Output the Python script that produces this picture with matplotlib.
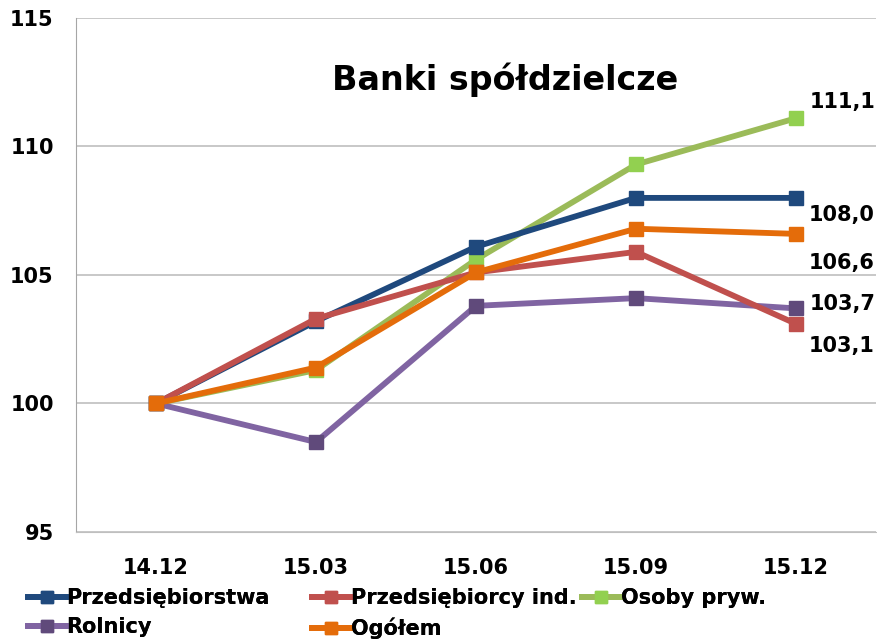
import numpy as np
import matplotlib.pyplot as plt

categories = ["14.12", "15.03", "15.06", "15.09", "15.12"]

przedsiebiorstwa = [100.0, 103.2, 106.1, 108.0, 108.0]
przedsiebiorcy_ind = [100.0, 103.3, 105.1, 105.9, 103.1]
osoby_pryw = [100.0, 101.3, 105.6, 109.3, 111.1]
rolnicy = [100.0, 98.5, 103.8, 104.1, 103.7]
ogolem = [100.0, 101.4, 105.1, 106.8, 106.6]

end_labels = ["111,1", "108,0", "106,6", "103,7", "103,1"]

plt.rcParams["font.family"] = ["DejaVu Sans"]
plt.rcParams["font.weight"] = "bold"

fig = plt.figure(figsize=(8.77, 6.41), dpi=100)
ax = fig.add_axes([76 / 877, 109 / 641, 800 / 877, 514 / 641])

x = np.arange(len(categories))

series = [
    ("Przedsiębiorstwa", przedsiebiorstwa, "#1F497D", "#1F497D", 3),
    ("Przedsiębiorcy ind.", przedsiebiorcy_ind, "#C0504D", "#C0504D", 4),
    ("Osoby pryw.", osoby_pryw, "#9BBB59", "#92D050", 2),
    ("Rolnicy", rolnicy, "#8064A2", "#604A7B", 3),
    ("Ogółem", ogolem, "#E46C0A", "#E46C0A", 5),
]
handles = {}
for name, vals, lc, mc, zo in series:
    h, = ax.plot(x, vals, color=lc, lw=4.2, marker="s", ms=10.5, mfc=mc, mec=mc,
                 label=name, zorder=zo)
    handles[name] = h

# value labels at the last point
last = len(categories) - 1
offsets = [(osoby_pryw, (10, 12)), (przedsiebiorstwa, (9, -12)),
           (ogolem, (9, -21)), (rolnicy, (10, 3)), (przedsiebiorcy_ind, (9, -16))]
for lab, (vals, off) in zip(end_labels, offsets):
    ax.annotate(lab, (x[last], vals[last]), xytext=off, textcoords="offset points",
                ha="left", va="center", fontsize=15, fontweight="bold")

ax.set_xlim(-0.5, len(categories) - 0.5)
ax.set_ylim(95, 115)
ax.set_yticks([95, 100, 105, 110, 115])
ax.set_xticks(x)
ax.set_xticklabels(categories)
ax.tick_params(axis="both", labelsize=15, length=0)
ax.tick_params(axis="x", pad=19)
ax.tick_params(axis="y", pad=16)
ax.yaxis.grid(True, color="#BFBFBF", lw=1.2)
ax.set_axisbelow(True)
for s in ["top", "right"]:
    ax.spines[s].set_visible(False)
ax.spines["left"].set_color("#A6A6A6")
ax.spines["bottom"].set_color("#BFBFBF")

ax.text(0.536, 0.88, "Banki spółdzielcze", transform=ax.transAxes,
        ha="center", va="center", fontsize=24, fontweight="bold")

# legend: three columns placed by hand, like the Excel layout
columns = [
    (["Przedsiębiorstwa", "Rolnicy"], 28 / 877),
    (["Przedsiębiorcy ind.", "Ogółem"], 312 / 877),
    (["Osoby pryw."], 582 / 877),
]
for names, x0 in columns:
    leg = fig.legend([handles[n] for n in names], names, loc="upper left",
                     bbox_to_anchor=(x0, 53 / 641), frameon=False, fontsize=15,
                     handlelength=1.8, handletextpad=0.05, labelspacing=0.45,
                     borderaxespad=0, borderpad=0, markerscale=0.85)
    fig.add_artist(leg)

fig.savefig("out.png", dpi=100)
